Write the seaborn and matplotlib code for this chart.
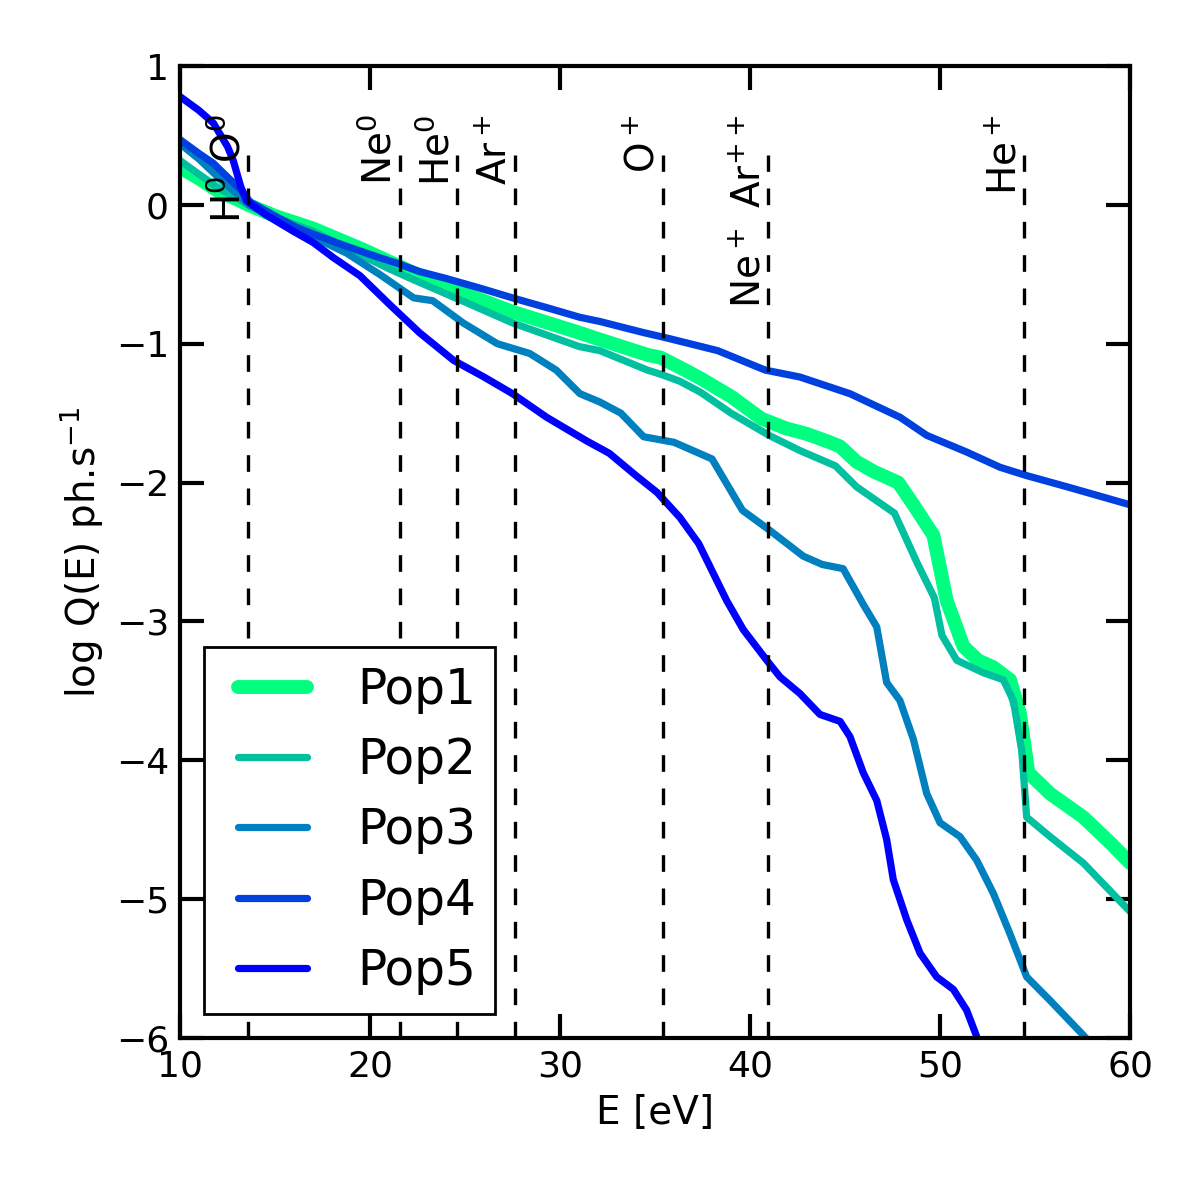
import matplotlib
matplotlib.use("Agg")
import matplotlib.pyplot as plt
import matplotlib.transforms as mtransforms
from matplotlib.legend_handler import HandlerLine2D
import numpy as np
import pandas as pd
import seaborn as sns

sns.set_style("white")
plt.rcParams["font.family"] = ["DejaVu Sans"]
plt.rcParams["lines.scale_dashes"] = False
plt.rcParams["lines.solid_joinstyle"] = "round"
for key in ["text.color", "axes.labelcolor", "xtick.color", "ytick.color", "axes.edgecolor"]:
    plt.rcParams[key] = "black"

# --- data ------------------------------------------------------------------
pop1_e = [10, 11, 12, 13, 13.6, 15, 17, 19.6, 22.3, 25, 27.5, 31, 32.1, 34.6, 35.3, 36.3,
          37.4, 39, 40.6, 41.9, 43, 44.2, 44.74, 45.6, 46.5, 47.8, 48.6, 49.65, 50.35,
          51.23, 52.0, 52.8, 53.68, 54.2, 54.65, 55.79, 57.54, 59.0, 60]
pop1_q = [0.27, 0.19, 0.10, 0.04, 0.0, -0.08, -0.17, -0.32, -0.49, -0.64, -0.77, -0.92,
          -0.97, -1.08, -1.10, -1.17, -1.25, -1.38, -1.54, -1.61, -1.65, -1.71, -1.74,
          -1.85, -1.92, -2.00, -2.16, -2.38, -2.85, -3.18, -3.28, -3.33, -3.42, -3.66,
          -4.09, -4.24, -4.41, -4.60, -4.74]

pop2_e = [10, 11, 12, 13, 13.6, 15, 17, 19.5, 21, 22.3, 25, 27.5, 31, 32.1, 34.6, 35.3,
          36.3, 37.4, 39, 41.0, 42.63, 44.5, 45.6, 47.6, 48.8, 49.7, 50.1, 50.88, 52.28,
          53.33, 53.86, 54.3, 54.56, 55.79, 57.54, 60]
pop2_q = [0.32, 0.22, 0.12, 0.05, 0.0, -0.09, -0.19, -0.36, -0.46, -0.54, -0.70, -0.85,
          -1.02, -1.05, -1.19, -1.22, -1.27, -1.35, -1.50, -1.66, -1.77, -1.88, -2.03,
          -2.22, -2.58, -2.83, -3.10, -3.28, -3.37, -3.42, -3.57, -3.93, -4.41, -4.55,
          -4.74, -5.09]

pop3_e = [10, 11, 12, 13, 13.6, 15, 17, 18.8, 20.5, 22.3, 23.3, 24.9, 26.7, 28.4, 29.8,
          31.05, 32.1, 33.2, 34.4, 36.0, 38.0, 39.6, 41.0, 42.8, 43.8, 44.9, 45.97, 46.67,
          47.19, 47.89, 48.6, 49.3, 50.0, 51.05, 51.93, 52.81, 53.68, 54.56, 55.79, 57.54,
          58.0]
pop3_q = [0.44, 0.33, 0.20, 0.08, 0.0, -0.10, -0.23, -0.35, -0.50, -0.67, -0.69, -0.85,
          -1.00, -1.07, -1.19, -1.36, -1.42, -1.50, -1.67, -1.71, -1.83, -2.20, -2.34,
          -2.53, -2.59, -2.62, -2.88, -3.04, -3.44, -3.57, -3.85, -4.24, -4.45, -4.55,
          -4.72, -4.96, -5.25, -5.56, -5.73, -5.98, -6.05]

pop4_e = [10, 11, 11.75, 12.5, 13.2, 13.7, 15, 16.1, 17, 18.8, 20.5, 21.4, 22.6, 24.0,
          25.8, 27.5, 29.3, 31.05, 32.1, 34.4, 35.66, 38.3, 40.8, 42.63, 45.26, 47.9, 49.3,
          51.4, 53.16, 54.56, 56.67, 60]
pop4_q = [0.47, 0.37, 0.30, 0.20, 0.11, 0.02, -0.08, -0.16, -0.21, -0.30, -0.38, -0.42,
          -0.48, -0.53, -0.60, -0.67, -0.74, -0.81, -0.84, -0.92, -0.96, -1.05, -1.19,
          -1.24, -1.36, -1.53, -1.66, -1.78, -1.89, -1.95, -2.03, -2.16]

pop5_e = [10, 11, 11.75, 12.5, 12.8, 13.2, 13.5, 14.5, 15.96, 17.0, 18.07, 19.47, 21.05,
          22.6, 24.4, 26.0, 27.5, 29.3, 31.4, 32.6, 34.0, 35.1, 36.3, 37.3, 38.77, 39.65,
          40.88, 41.58, 42.63, 43.68, 44.74, 45.26, 45.96, 46.67, 47.19, 47.54, 48.25,
          48.95, 49.82, 50.7, 51.4, 51.93, 52.1]
pop5_q = [0.78, 0.68, 0.59, 0.42, 0.32, 0.13, 0.03, -0.07, -0.19, -0.27, -0.38, -0.51,
          -0.72, -0.92, -1.12, -1.24, -1.36, -1.53, -1.70, -1.79, -1.95, -2.07, -2.25,
          -2.44, -2.85, -3.06, -3.28, -3.40, -3.52, -3.67, -3.72, -3.83, -4.09, -4.29,
          -4.57, -4.86, -5.15, -5.39, -5.56, -5.65, -5.80, -5.99, -6.10]

pop_names = ["Pop1", "Pop2", "Pop3", "Pop4", "Pop5"]
pop_e = [pop1_e, pop2_e, pop3_e, pop4_e, pop5_e]
pop_q = [pop1_q, pop2_q, pop3_q, pop4_q, pop5_q]
pop_lw = [5.0, 2.6, 2.6, 2.6, 2.6]

# ionisation edges
ion_e = [13.6, 21.56, 24.59, 27.63, 35.4, 40.96, 54.42]
ion_labels = ["H$^0$ O$^0$", "Ne$^0$", "He$^0$", "Ar$^+$", "O$^+$",
              "Ne$^+$ Ar$^{++}$", "He$^+$"]

# colours from the winter map, green (Pop1) to blue (Pop5)
colors = [plt.cm.winter(v) for v in np.linspace(1, 0, len(pop_names))]

df = pd.concat(
    [pd.DataFrame({"E": e, "logQ": q, "pop": n}) for n, e, q in zip(pop_names, pop_e, pop_q)],
    ignore_index=True,
)


class ShiftedLine(HandlerLine2D):
    # legend line drawn a bit to the right inside its box
    def create_artists(self, legend, orig_handle, xdescent, ydescent, width, height, fontsize, trans):
        shift = 0.31 * fontsize
        arts = super().create_artists(legend, orig_handle, xdescent, ydescent,
                                      width - shift, height, fontsize, trans)
        for a in arts:
            a.set_transform(mtransforms.Affine2D().translate(shift, 0) + trans)
        return arts


fig = plt.figure(figsize=(6, 5.97), dpi=200)
ax = fig.add_axes([0.15, 0.1307, 0.7917, 0.814])

for name, col, lw in zip(pop_names, colors, pop_lw):
    sns.lineplot(data=df[df["pop"] == name], x="E", y="logQ", color=col, linewidth=lw,
                 label=name, ax=ax, sort=False)

for e, lab in zip(ion_e, ion_labels):
    ax.plot([e, e], [-6, 0.36], color="black", linewidth=1.2, linestyle=(0, (6, 6)))
    ax.text(e, 0.65, lab, rotation=90, ha="right", va="top", fontsize=14)

ax.set_xlim(10, 60)
ax.set_ylim(-6, 1)
ax.set_xticks([10, 20, 30, 40, 50, 60])
ax.set_yticks([-6, -5, -4, -3, -2, -1, 0, 1])
ax.set_xlabel("E [eV]", fontsize=14)
ax.set_ylabel("log Q(E) ph.s$^{-1}$", fontsize=14)
ax.tick_params(direction="in", length=8.5, width=1.5, labelsize=13, pad=4,
               top=True, right=True, bottom=True, left=True)
for sp in ax.spines.values():
    sp.set_linewidth(1.5)
    sp.set_color("black")

leg = ax.legend(loc="lower left", fontsize=17.5, handlelength=1.73, handletextpad=1.04,
                labelspacing=0.46, fancybox=False, framealpha=1, borderpad=0.38,
                handler_map={matplotlib.lines.Line2D: ShiftedLine()})
leg.get_frame().set_edgecolor("black")
leg.get_frame().set_linewidth(1.0)

fig.savefig("out.png", dpi=200)
